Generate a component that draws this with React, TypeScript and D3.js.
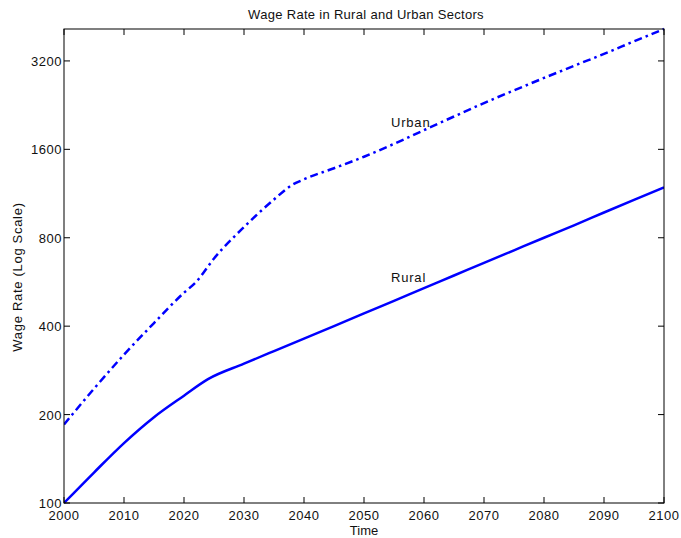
import * as d3 from "d3";
import { useEffect } from "react";

// Wage rate in rural and urban sectors, log-scale y axis
const years = [2000, 2005, 2010, 2015, 2020, 2022, 2025, 2030, 2035, 2038, 2040, 2045, 2050, 2055, 2060, 2065, 2070, 2075, 2080, 2085, 2090, 2095, 2100];
const urban = [185, 245, 320, 410, 520, 565, 680, 870, 1080, 1210, 1265, 1380, 1510, 1670, 1860, 2070, 2300, 2540, 2800, 3080, 3380, 3730, 4110];

const ruralYears = [2000, 2005, 2010, 2015, 2020, 2024, 2030, 2035, 2040, 2045, 2050, 2055, 2060, 2065, 2070, 2075, 2080, 2085, 2090, 2095, 2100];
const rural = [100, 127, 160, 196, 232, 264, 298, 329, 363, 400, 442, 488, 539, 595, 657, 725, 800, 882, 975, 1077, 1188];

const xTicks = [2000, 2010, 2020, 2030, 2040, 2050, 2060, 2070, 2080, 2090, 2100];
const yTicks = [100, 200, 400, 800, 1600, 3200];

const W = 681;
const H = 538;
const L = 64;
const R = 664;
const T = 29;
const B = 503;
const FONT = "'Liberation Sans', Arial, sans-serif";

export default function App() {
  useEffect(() => {
    document.body.style.margin = "0";
  }, []);

  const x = d3.scaleLinear().domain([2000, 2100]).range([L, R]);
  const y = d3.scaleLog().domain([100, 4110]).range([B, T]);
  const line = d3
    .line<[number, number]>()
    .x((d) => x(d[0]))
    .y((d) => y(d[1]))
    .curve(d3.curveMonotoneX);

  const urbanPts = years.map((yr, i) => [yr, urban[i]] as [number, number]);
  const ruralPts = ruralYears.map((yr, i) => [yr, rural[i]] as [number, number]);

  return (
    <svg width={W} height={H} style={{ display: "block", background: "#fff" }} fontFamily={FONT} fill="#111">
      <text x={366} y={19} textAnchor="middle" fontSize={13} letterSpacing="0.3">
        Wage Rate in Rural and Urban Sectors
      </text>

      <defs>
        <clipPath id="plot">
          <rect x={L} y={T - 2} width={R - L} height={B - T + 4} />
        </clipPath>
      </defs>

      <g clipPath="url(#plot)">
        <path d={line(urbanPts) ?? ""} fill="none" stroke="#0000ff" strokeWidth={2.5} strokeDasharray="8,4,2.5,4" />
        <path d={line(ruralPts) ?? ""} fill="none" stroke="#0000ff" strokeWidth={2.5} />
      </g>

      {/* box */}
      <rect x={L} y={T} width={R - L} height={B - T} fill="none" stroke="#000" strokeWidth={1} />

      {xTicks.map((t) => (
        <g key={"x" + t}>
          <line x1={x(t)} x2={x(t)} y1={B} y2={B - 6} stroke="#000" />
          <line x1={x(t)} x2={x(t)} y1={T} y2={T + 6} stroke="#000" />
          <text x={x(t)} y={520} textAnchor="middle" fontSize={13} letterSpacing="0.5">
            {t}
          </text>
        </g>
      ))}

      {yTicks.map((t) => (
        <g key={"y" + t}>
          <line x1={L} x2={L + 6} y1={y(t)} y2={y(t)} stroke="#000" />
          <line x1={R} x2={R - 6} y1={y(t)} y2={y(t)} stroke="#000" />
          <text x={L - 2} y={y(t) + 5} textAnchor="end" fontSize={13} letterSpacing="0.5">
            {t}
          </text>
        </g>
      ))}

      <text x={364} y={535} textAnchor="middle" fontSize={13}>
        Time
      </text>
      <text transform={`translate(22,277) rotate(-90)`} textAnchor="middle" fontSize={13} letterSpacing="0.7">
        Wage Rate (Log Scale)
      </text>

      <text x={x(2054.5)} y={y(1907)} fontSize={13} letterSpacing="0.8">
        Urban
      </text>
      <text x={x(2054.5)} y={y(566)} fontSize={13} letterSpacing="0.8">
        Rural
      </text>
    </svg>
  );
}
